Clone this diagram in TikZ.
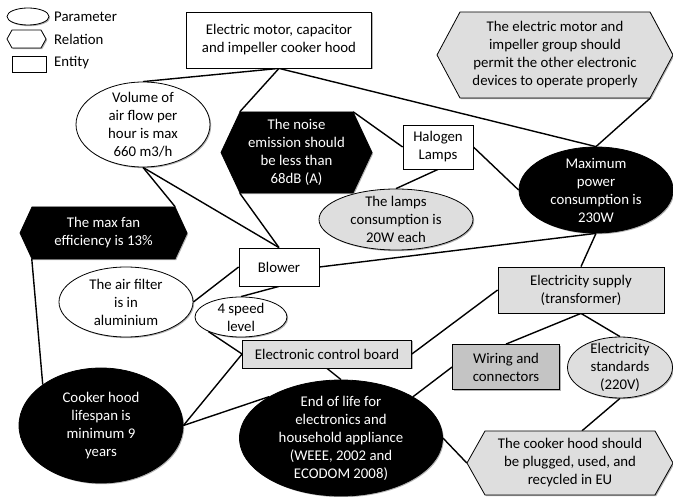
\documentclass[tikz,border=0pt]{standalone}
\usepackage{fontspec}
\setmainfont{Carlito}
\usetikzlibrary{shapes.geometric,shadows,backgrounds,calc}
\definecolor{lg}{RGB}{222,222,222}
\definecolor{mg}{RGB}{196,196,196}
\newcommand\hexnode[9]{%
  \path[hexline,#7] ({#2-#4/2},{#3}) -- ({#2-#4/2+#6},{#3-#5/2}) -- ({#2+#4/2-#6},{#3-#5/2}) -- ({#2+#4/2},{#3}) -- ({#2+#4/2-#6},{#3+#5/2}) -- ({#2-#4/2+#6},{#3+#5/2}) -- cycle;
  \node[txt,#8,minimum width=#4pt,minimum height=#5pt] (#1) at (#2,#3) {#9};
}
\begin{document}
\begin{tikzpicture}[x=1pt,y=-1pt,
  every node/.style={font=\fontsize{14.8}{18}\selectfont, align=center},
  shad/.style={drop shadow={shadow xshift=1.2pt,shadow yshift=-1.2pt,opacity=0.3,fill=black}},
  txt/.style={inner sep=0pt, draw=none},
  hexline/.style={draw, line width=0.8pt, shad},
  ent/.style={draw, line width=0.8pt, rectangle, inner sep=1pt, shad},
  par/.style={draw, line width=0.8pt, ellipse, inner sep=-40pt, shad},
  ln/.style={line width=1.4pt},
  lab/.style={anchor=west, inner sep=0pt}
]
\useasboundingbox (0,0) rectangle (673,497);

% legend
\node[par, fill=white, minimum width=42pt, minimum height=17pt] (lp) at (28,16.5) {};
\node[lab] (lpt) at (54,17) {Parameter};
\hexnode{lr}{26.5}{39}{39}{18}{5}{fill=white}{}{}
\node[lab] (lrt) at (54,39) {Relation};
\node[ent, fill=white, minimum width=34pt, minimum height=16pt, inner sep=0pt] (le) at (29,64) {};
\node[lab] (let) at (54,63) {Entity};

% entities
\node[ent, fill=white, minimum width=185pt, minimum height=56pt] (motor) at (279,40) {Electric motor, capacitor\\and impeller cooker hood};
\node[ent, fill=white, minimum width=70pt, minimum height=44pt] (halogen) at (438,147) {Halogen\\Lamps};
\node[ent, fill=white, minimum width=80pt, minimum height=38pt] (blower) at (279,267) {Blower};
\node[ent, fill=lg, minimum width=166pt, minimum height=46pt] (supply) at (581,290) {Electricity supply\\(transformer)};
\node[ent, fill=lg, minimum width=169pt, minimum height=28pt] (control) at (327,354) {Electronic control board};
\node[ent, fill=mg, minimum width=107pt, minimum height=45pt] (wiring) at (506,367) {Wiring and\\connectors};

% relations
\hexnode{group}{555}{55}{236}{86}{23}{fill=lg}{}{The electric motor and\\impeller group should\\permit the other electronic\\devices to operate properly}
\hexnode{noise}{296.5}{152.5}{151}{81}{19}{fill=black}{text=white}{The noise\\emission should\\be less than\\68dB (A)}
\hexnode{maxfan}{103.5}{233}{167}{52}{12}{fill=black}{text=white}{The max fan\\efficiency is 13\%}
\hexnode{eu}{570}{463}{206}{64}{18}{fill=lg}{}{The cooker hood should\\be plugged, used, and\\recycled in EU}

% parameters
\node[par, fill=white, minimum width=134pt, minimum height=85pt] (volume) at (143,124.5) {Volume of\\air flow per\\hour is max\\660 m3/h};
\node[par, fill=lg, minimum width=154pt, minimum height=61pt] (lamps) at (396,219.5) {The lamps\\consumption is\\20W each};
\node[par, fill=black, text=white, minimum width=154pt, minimum height=86pt] (maxpow) at (596,190) {Maximum\\power\\consumption is\\230W};
\node[par, fill=white, minimum width=134pt, minimum height=70pt] (filter) at (126,302) {The air filter\\is in\\aluminium};
\node[par, fill=white, minimum width=92pt, minimum height=40pt] (speed) at (241,317) {4 speed\\level};
\node[par, fill=lg, minimum width=105pt, minimum height=61pt] (standards) at (620,367.5) {Electricity\\standards\\(220V)};
\node[par, fill=black, text=white, minimum width=164pt, minimum height=115pt] (lifespan) at (101,425.5) {Cooker hood\\lifespan is\\minimum 9\\years};
\node[par, fill=black, text=white, minimum width=203pt, minimum height=116pt] (eol) at (341,438) {End of life for\\electronics and\\household appliance\\(WEEE, 2002 and\\ECODOM 2008)};

% connectors
\begin{pgfonlayer}{background}
\draw[ln] (motor.south) -- (volume.north);
\draw[ln] (motor.south) -- ($(noise.north west)+(19,0)$);
\draw[ln] (motor.south) -- (maxpow.north);
\draw[ln] ($(group.south east)+(-23,0)$) -- (maxpow.north);
\draw[ln] ($(noise.north east)+(-19,0)$) -- (halogen.west);
\draw[ln] (halogen.east) -- (maxpow.west);
\draw[ln] (halogen.south) -- (lamps.north);
\draw[ln] (volume.south) -- (blower.north);
\draw[ln] (volume.south) -- ($(maxfan.north east)+(-12,0)$);
\draw[ln] ($(noise.south west)+(19,0)$) -- (blower.north);
\draw[ln] (blower.east) -- (maxpow.south);
\draw[ln] (supply.north) -- (maxpow.south);
\draw[ln] (blower.west) -- (filter.east);
\draw[ln] (blower.south) -- (speed.north);
\draw[ln] (speed.south west) -- (control.west);
\draw[ln] (control.east) -- (supply.west);
\draw[ln] ($(maxfan.south west)+(12,0)$) -- (lifespan.north west);
\draw[ln] (lifespan.east) -- (control.west);
\draw[ln] (lifespan.east) -- (eol.north west);
\draw[ln] (control.south) -- (eol.north);
\draw[ln] (eol.north east) -- (wiring.west);
\draw[ln] (eol.east) -- (eu.west);
\draw[ln] (supply.south) -- (wiring.north);
\draw[ln] (supply.south) -- (standards.north);
\draw[ln] (standards.south) -- ($(eu.north)+(12,0)$);
\end{pgfonlayer}
\end{tikzpicture}
\end{document}
